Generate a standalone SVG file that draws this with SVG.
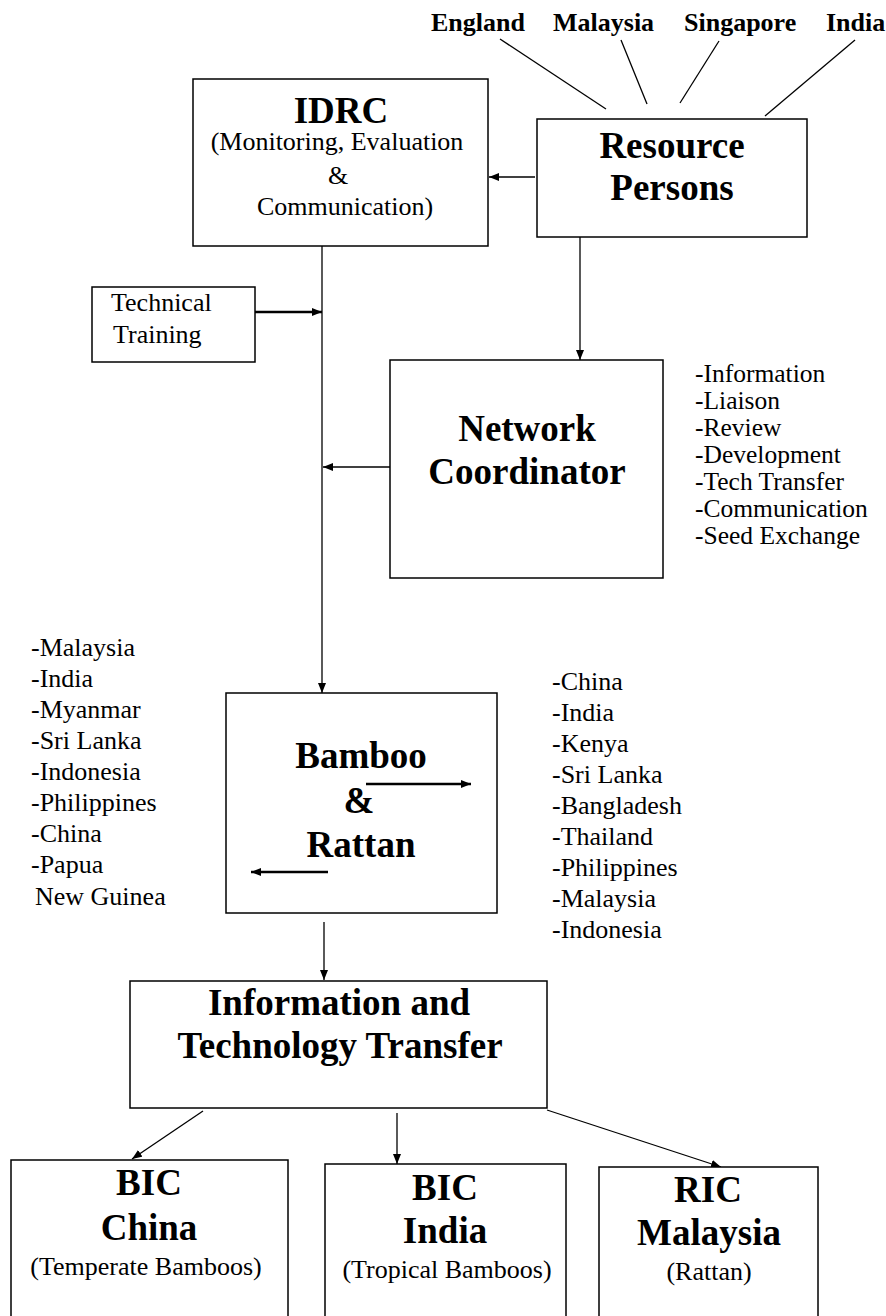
<svg xmlns="http://www.w3.org/2000/svg" width="886" height="1316" viewBox="0 0 886 1316">
<defs>
<style>
text{font-family:"Liberation Serif","Times New Roman",serif;fill:#000}
.b{font-weight:bold;font-size:37px}
.t{font-weight:bold;font-size:26px}
.r{font-size:26px}
.s{font-size:25.5px}
.m{text-anchor:middle}
.box{fill:#fff;stroke:#000;stroke-width:1.5}
.ln{stroke:#000;stroke-width:1.3;fill:none}
.th{stroke:#000;stroke-width:2.4;fill:none}
</style>
<marker id="ah" markerUnits="userSpaceOnUse" markerWidth="10" markerHeight="8" refX="10" refY="4" orient="auto">
<path d="M0,0 L10,4 L0,8 z" fill="#000"/>
</marker>
</defs>
<rect width="886" height="1316" fill="#fff"/>

<g id="connectors">
<line class="ln" x1="500" y1="39" x2="606" y2="109"/>
<line class="ln" x1="621" y1="40" x2="647" y2="104"/>
<line class="ln" x1="719" y1="41" x2="680" y2="103"/>
<line class="ln" x1="855" y1="40" x2="765" y2="116"/>
<line class="ln" x1="535" y1="177" x2="489" y2="177" marker-end="url(#ah)"/>
<line class="ln" x1="580" y1="237" x2="580" y2="360" marker-end="url(#ah)"/>
<line class="ln" x1="322" y1="246" x2="322" y2="693" marker-end="url(#ah)"/>
<line class="th" x1="255" y1="312" x2="322" y2="312" marker-end="url(#ah)"/>
<line class="ln" x1="390" y1="467" x2="323" y2="467" marker-end="url(#ah)"/>
<line class="ln" x1="324" y1="922" x2="324" y2="980" marker-end="url(#ah)"/>
<line class="ln" x1="203" y1="1111" x2="132" y2="1159" marker-end="url(#ah)"/>
<line class="ln" x1="397" y1="1113" x2="397" y2="1164" marker-end="url(#ah)"/>
<line class="ln" x1="547" y1="1110" x2="721" y2="1167" marker-end="url(#ah)"/>
</g>

<g id="countries">
<text class="t" x="431" y="31">England</text>
<text class="t" x="553" y="31">Malaysia</text>
<text class="t" x="684" y="31">Singapore</text>
<text class="t" x="826" y="31">India</text>
</g>

<g id="idrc">
<rect class="box" x="193" y="79" width="295" height="167"/>
<text class="b m" x="341" y="123" font-size="35">IDRC</text>
<text class="r m" x="337" y="150">(Monitoring, Evaluation</text>
<text class="r m" x="338" y="184">&amp;</text>
<text class="r m" x="345" y="215">Communication)</text>
</g>

<g id="resource">
<rect class="box" x="537" y="119" width="270" height="118"/>
<text class="b m" x="672" y="158">Resource</text>
<text class="b m" x="672" y="200">Persons</text>
</g>

<g id="training">
<rect class="box" x="92" y="287" width="163" height="75"/>
<text class="r" x="111" y="311">Technical</text>
<text class="r" x="113" y="343">Training</text>
</g>

<g id="network">
<rect class="box" x="390" y="360" width="273" height="218"/>
<text class="b m" x="527" y="441">Network</text>
<text class="b m" x="527" y="484">Coordinator</text>
</g>

<g id="network-tasks">
<text class="s" x="695" y="382">-Information</text>
<text class="s" x="695" y="409">-Liaison</text>
<text class="s" x="695" y="436">-Review</text>
<text class="s" x="695" y="463">-Development</text>
<text class="s" x="695" y="490">-Tech Transfer</text>
<text class="s" x="695" y="517">-Communication</text>
<text class="s" x="695" y="544">-Seed Exchange</text>
</g>

<g id="bamboo">
<rect class="box" x="226" y="693" width="271" height="220"/>
<text class="b m" x="361" y="768">Bamboo</text>
<text class="b m" x="359" y="813">&amp;</text>
<text class="b m" x="361" y="857">Rattan</text>
<line class="th" x1="366" y1="784" x2="471" y2="784" marker-end="url(#ah)"/>
<line class="th" x1="328" y1="872" x2="251" y2="872" marker-end="url(#ah)"/>
</g>

<g id="left-countries">
<text class="r" x="31" y="656">-Malaysia</text>
<text class="r" x="31" y="687">-India</text>
<text class="r" x="31" y="718">-Myanmar</text>
<text class="r" x="31" y="749">-Sri Lanka</text>
<text class="r" x="31" y="780">-Indonesia</text>
<text class="r" x="31" y="811">-Philippines</text>
<text class="r" x="31" y="842">-China</text>
<text class="r" x="31" y="873">-Papua</text>
<text class="r" x="35" y="905">New Guinea</text>
</g>

<g id="right-countries">
<text class="r" x="552" y="690">-China</text>
<text class="r" x="552" y="721">-India</text>
<text class="r" x="552" y="752">-Kenya</text>
<text class="r" x="552" y="783">-Sri Lanka</text>
<text class="r" x="552" y="814">-Bangladesh</text>
<text class="r" x="552" y="845">-Thailand</text>
<text class="r" x="552" y="876">-Philippines</text>
<text class="r" x="552" y="907">-Malaysia</text>
<text class="r" x="552" y="938">-Indonesia</text>
</g>

<g id="transfer">
<rect class="box" x="130" y="981" width="417" height="127"/>
<text class="b m" x="339" y="1015">Information and</text>
<text class="b m" x="340" y="1058">Technology Transfer</text>
</g>

<g id="bic-china">
<rect class="box" x="11" y="1160" width="277" height="170"/>
<text class="b m" x="149" y="1195">BIC</text>
<text class="b m" x="149" y="1240">China</text>
<text class="r m" x="146" y="1275">(Temperate Bamboos)</text>
</g>

<g id="bic-india">
<rect class="box" x="325" y="1164" width="241" height="170"/>
<text class="b m" x="445" y="1200">BIC</text>
<text class="b m" x="445" y="1243">India</text>
<text class="r m" x="447" y="1278">(Tropical Bamboos)</text>
</g>

<g id="ric-malaysia">
<rect class="box" x="599" y="1167" width="219" height="170"/>
<text class="b m" x="708" y="1202">RIC</text>
<text class="b m" x="709" y="1245">Malaysia</text>
<text class="r m" x="709" y="1280">(Rattan)</text>
</g>
</svg>
